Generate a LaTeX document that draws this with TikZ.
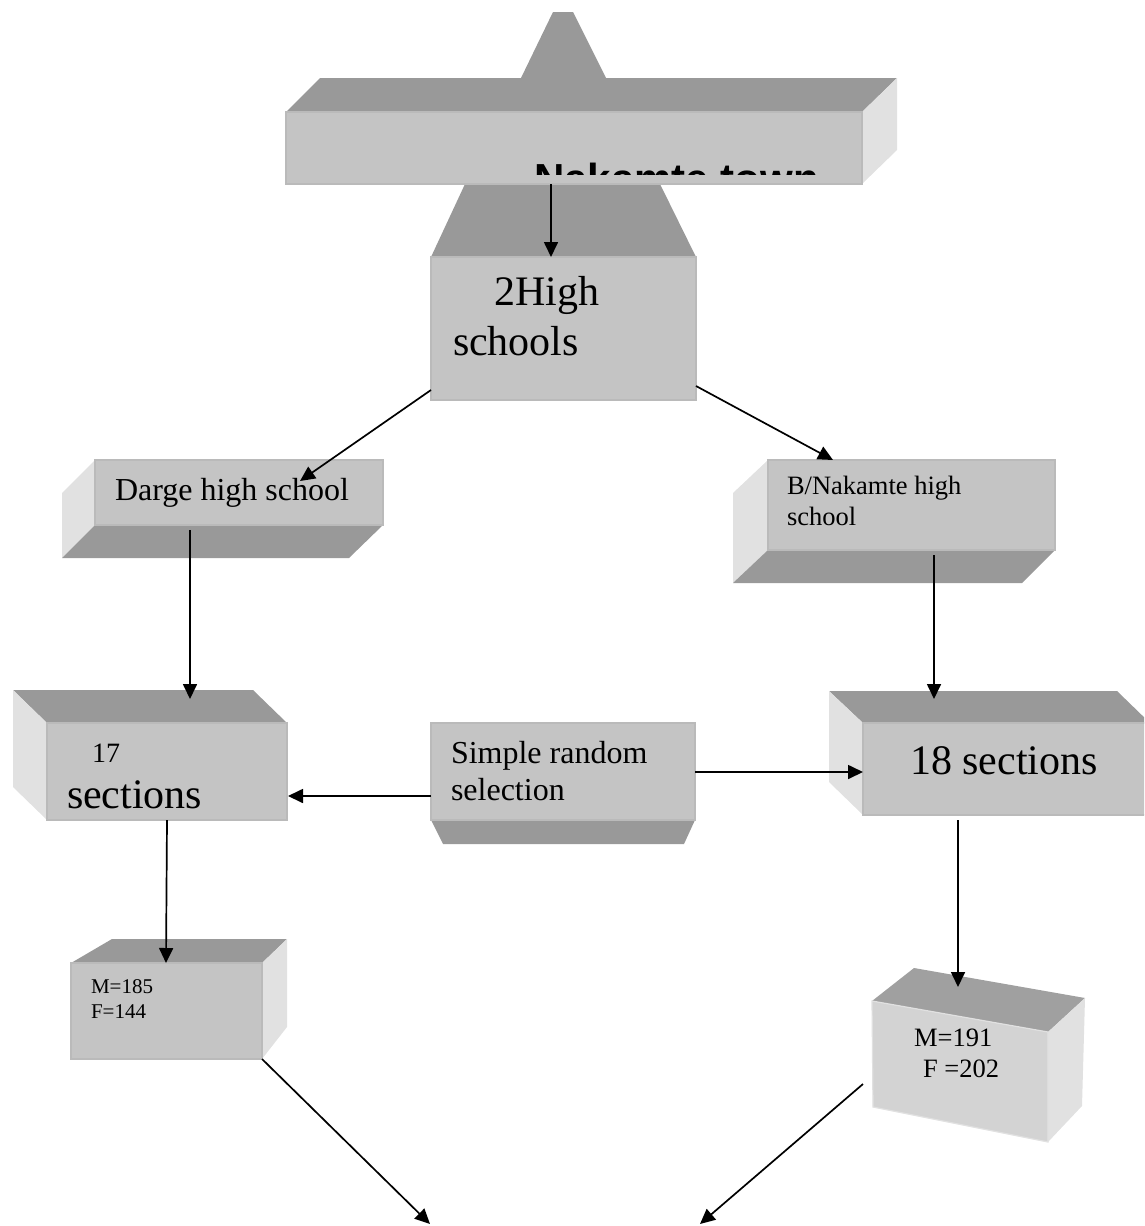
\documentclass[tikz,border=0pt]{standalone}
\usepackage{fontspec}
\setmainfont{Liberation Serif}
\newfontfamily\sansf{Liberation Sans}
\usetikzlibrary{arrows.meta}
\definecolor{fg}{RGB}{196,196,196}
\definecolor{tg}{RGB}{153,153,153}
\definecolor{sg}{RGB}{225,225,225}
\definecolor{edg}{RGB}{186,186,186}
\definecolor{fgb}{RGB}{211,211,211}
\definecolor{tgb}{RGB}{160,160,160}
\tikzset{
  frontface/.style={fill=fg, draw=edg, line width=1.2pt, inner sep=0pt, outer sep=0pt, anchor=north west},
  topface/.style={fill=tg},
  sideface/.style={fill=sg},
  lbl/.style={anchor=base west, inner sep=0pt, outer sep=0pt},
  fbig/.style={font=\fontsize{42}{48}\selectfont},
  fmid/.style={font=\fontsize{32}{38}\selectfont},
  fsml/.style={font=\fontsize{26.5}{31}\selectfont},
  ftiny/.style={font=\fontsize{21}{25}\selectfont},
  arr/.style={-{Triangle[length=15pt,width=14pt]}, line width=1.7pt, black}
}
\begin{document}
\begin{tikzpicture}[x=1pt,y=-1pt]
\useasboundingbox (0,0) rectangle (1144,1226);
\clip (0,0) rectangle (1144,1226);

% ---- Nakamte town slab and 2High schools
\fill[topface] (521,78) -- (553,12) -- (573,12) -- (606,78) -- cycle;
\fill[topface] (465,184) -- (660,184) -- (696,257) -- (431,257) -- cycle;
\fill[topface] (286,112) -- (320,78) -- (897,78) -- (862,112) -- cycle;
\fill[sideface] (862,112) -- (897,78) -- (897,150) -- (862,184) -- cycle;
\node[frontface, minimum width=576pt, minimum height=72pt] (town) at (286,112) {};
\begin{scope}
  \clip (286,112) rectangle (862,174);
  \node[lbl, font=\sansf\bfseries\fontsize{42}{48}\selectfont] (townlbl) at (534,193) {Nakamte town};
\end{scope}

\node[frontface, minimum width=265pt, minimum height=143pt] (schools) at (431,257) {};
\node[lbl, fbig] (t2high) at (494,305) {2High};
\node[lbl, fbig] (tschools) at (453,355) {schools};

% ---- Darge high school
\fill[sideface] (95,460) -- (62,493) -- (62,558) -- (95,525) -- cycle;
\fill[topface] (95,525) -- (383,525) -- (349,558) -- (62,558) -- cycle;
\node[frontface, minimum width=288pt, minimum height=65pt] (darge) at (95,460) {};
\node[lbl, fmid] (tdarge) at (115,500) {Darge high school};

% ---- B/Nakamte high school
\fill[sideface] (768,460) -- (733,493) -- (733,583) -- (768,550) -- cycle;
\fill[topface] (768,550) -- (1055,550) -- (1022,583) -- (733,583) -- cycle;
\node[frontface, minimum width=287pt, minimum height=90pt] (bnak) at (768,460) {};
\node[lbl, fsml] (tbnak1) at (787,494) {B/Nakamte high};
\node[lbl, fsml] (tbnak2) at (787,525) {school};

% ---- 17 sections
\fill[topface] (13,690) -- (253,690) -- (287,723) -- (47,723) -- cycle;
\fill[sideface] (13,690) -- (47,723) -- (47,820) -- (13,787) -- cycle;
\node[frontface, minimum width=240pt, minimum height=97pt] (s17) at (47,723) {};
\node[lbl, font=\fontsize{28}{32}\selectfont] (t17) at (92,762) {17};
\node[lbl, fbig] (tsec17) at (67,808) {sections};

% ---- 18 sections
\fill[topface] (829,691) -- (1117,691) -- (1150,723) -- (863,723) -- cycle;
\fill[sideface] (829,691) -- (863,723) -- (863,815) -- (829,782) -- cycle;
\node[frontface, minimum width=290pt, minimum height=92pt] (s18) at (863,723) {};
\node[lbl, fbig] (t18) at (910,774) {18 sections};

% ---- Simple random selection
\fill[topface] (431,820) -- (695,820) -- (684,844) -- (443,844) -- cycle;
\node[frontface, minimum width=264pt, minimum height=97pt] (simple) at (431,723) {};
\node[lbl, fmid] (tsim1) at (451,763) {Simple random};
\node[lbl, fmid] (tsim2) at (451,800) {selection};

% ---- M=185 F=144
\fill[topface] (71,963) -- (112,939) -- (287,939) -- (262,963) -- cycle;
\fill[sideface] (262,963) -- (287,939) -- (287,1027) -- (262,1059) -- cycle;
\node[frontface, minimum width=191pt, minimum height=96pt] (m185) at (71,963) {};
\node[lbl, ftiny] (tm185) at (91,993) {M=185};
\node[lbl, ftiny] (tf144) at (91,1018) {F=144};

% ---- M=191 F=202 (tilted box)
\fill[tgb] (872,1001) -- (914,968) -- (1085,998) -- (1048,1032) -- cycle;
\fill[sg] (1048,1032) -- (1085,998) -- (1082,1106) -- (1048,1142) -- cycle;
\filldraw[fill=fgb, draw=sg, line width=1.2pt] (872,1001) -- (1048,1032) -- (1048,1142) -- (873,1107) -- cycle;
\coordinate (m191top) at (958,987);
\coordinate (m191w) at (863,1084);
\node[lbl, fsml] (tm191) at (914,1046) {M=191};
\node[lbl, fsml] (tf202) at (923,1077) {F =202};

% ---- free ends at the bottom
\coordinate (endL) at (430,1224);
\coordinate (endR) at (700,1224);

% ---- connectors
\draw[arr] ([xshift=265pt]town.south west) -- ([xshift=120pt]schools.north west);
\draw[arr] ([yshift=10pt]schools.south west) -- ([xshift=205pt,yshift=-21pt]darge.north west);
\draw[arr] ([yshift=14pt]schools.south east) -- ([xshift=65pt]bnak.north west);
\draw[arr] ([xshift=95pt,yshift=-5pt]darge.south west) -- ([xshift=143pt,yshift=24pt]s17.north west);
\draw[arr] ([xshift=166pt,yshift=-5pt]bnak.south west) -- ([xshift=71pt,yshift=24pt]s18.north west);
\draw[arr] ([yshift=-73pt]simple.north west) -- ([xshift=1pt,yshift=-73pt]s17.north east);
\draw[arr] ([yshift=-49pt]simple.north east) -- ([yshift=-49pt]s18.north west);
\draw[arr] ([xshift=120pt]s17.south west) -- ([xshift=95pt]m185.north west);
\draw[arr] ([xshift=95pt,yshift=-5pt]s18.south west) -- (m191top);
\draw[arr] (m185.south east) -- (endL);
\draw[arr] (m191w) -- (endR);
\end{tikzpicture}
\end{document}
